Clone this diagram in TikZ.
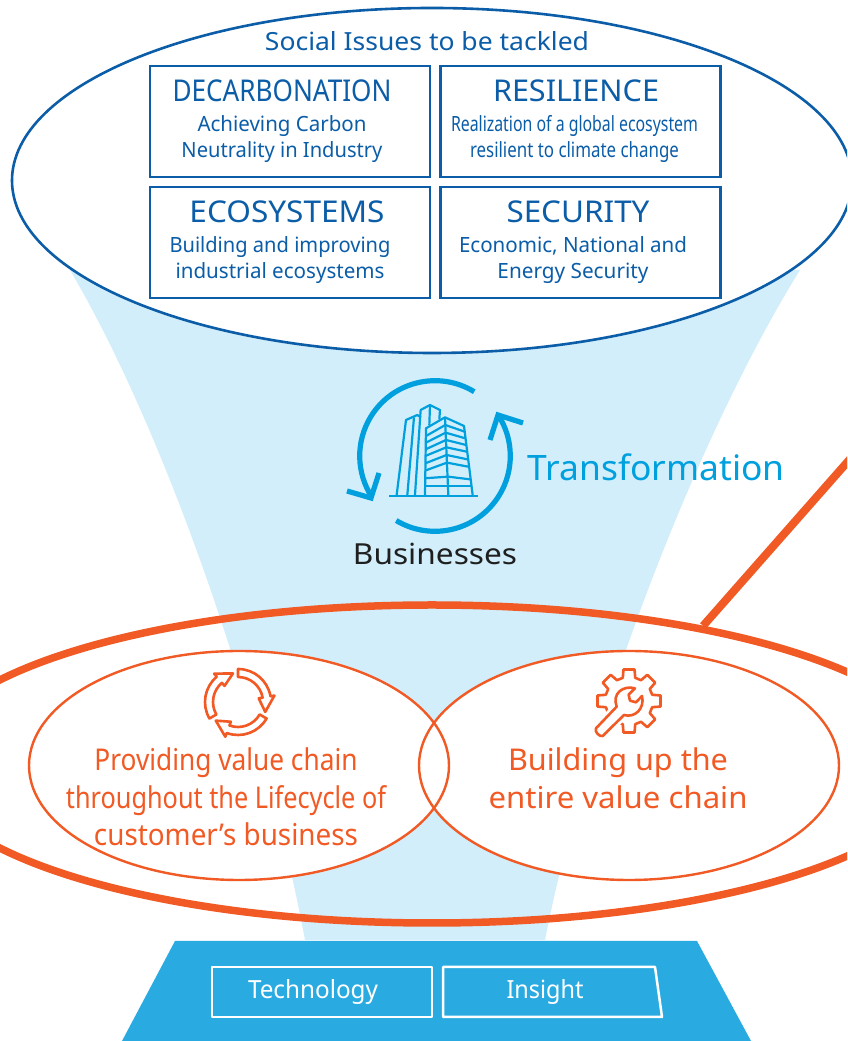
\documentclass[tikz,border=0pt]{standalone}
\usepackage{fontspec,graphicx}
\usetikzlibrary{shapes.geometric}
\setmainfont{Noto Sans}
\definecolor{issueblue}{HTML}{0B5DA8}
\definecolor{skyblue}{HTML}{00A0DE}
\definecolor{funnelblue}{HTML}{D2EEFB}
\definecolor{baseblue}{HTML}{29ABE2}
\definecolor{vcorange}{HTML}{F15A24}
\newcommand{\linew}[2]{\resizebox{#1pt}{\height}{#2}}
\newcommand{\fsize}[1]{\fontsize{#1}{#1}\selectfont}
\tikzset{
  issuebox/.style={draw=issueblue,line width=2.3pt,minimum width=280pt,minimum height=111pt,inner sep=0pt},
  issuehead/.style={text=issueblue,font=\fsize{30},inner sep=0pt},
  issuetext/.style={text=issueblue,align=center,inner sep=0pt,font=\fontsize{21}{26}\selectfont},
  vctext/.style={text=vcorange,align=center,inner sep=0pt,font=\fontsize{30}{37.5}\selectfont},
  vcell/.style={ellipse,draw=vcorange,line width=2.4pt,minimum width=420pt,minimum height=229pt,inner sep=0pt},
  basebox/.style={white,line width=2.5pt,line join=round},
  basetext/.style={text=white,inner sep=0pt,font=\fsize{25}},
  iconline/.style={skyblue,line width=2.2pt,line join=round},
  iconarc/.style={skyblue,line width=5.2pt},
  vcicon/.style={vcorange,line width=2.6pt,line join=round}
}
\begin{document}
\begin{tikzpicture}[x=1pt,y=1pt]
\useasboundingbox (0,0) rectangle (847,1041);
\clip (0,0) rectangle (847,1041);
\fill[white] (0,0) rectangle (847,1041);
% funnel
\fill[funnelblue] (70,771) .. controls (165,610) and (262,330) .. (305,101)
  -- (545,101) .. controls (590,330) and (700,610) .. (800,771) -- cycle;
% issues
\node[ellipse,draw=issueblue,fill=white,line width=2.6pt,minimum width=840pt,minimum height=345pt,inner sep=0pt] (issues) at (432,860.5) {};
\node[issuetext,font=\fsize{25}] (issuestitle) at (427,1000) {\linew{324}{Social Issues to be tackled}};
\node[issuebox] (decarb) at (290,919.5) {};
\node[issuebox] (resil) at (580.5,919.5) {};
\node[issuebox] (ecosys) at (290,798.5) {};
\node[issuebox] (secur) at (580.5,798.5) {};
\node[issuehead] (decarbhead) at (282,950.5) {\linew{219}{DECARBONATION}};
\node[issuetext] (decarbtext) at (282,902) {\linew{169}{Achieving Carbon}\\\linew{201}{Neutrality in Industry}};
\node[issuehead] (resilhead) at (576,950.5) {\linew{166}{RESILIENCE}};
\node[issuetext] (resiltext) at (574.5,902) {\linew{247}{Realization of a global ecosystem}\\\linew{209}{resilient to climate change}};
\node[issuehead] (ecosyshead) at (287,829.5) {\linew{195}{ECOSYSTEMS}};
\node[issuetext] (ecosystext) at (280,781) {\linew{221}{Building and improving}\\\linew{209}{industrial ecosystems}};
\node[issuehead] (securhead) at (578,829.5) {\linew{143}{SECURITY}};
\node[issuetext] (securtext) at (573,781) {\linew{228}{Economic, National and}\\\linew{151}{Energy Security}};
% transformation
\draw[iconarc] (435,585) ++(58.6:75.3) arc (58.6:213:75.3);
\draw[iconarc] (435,585) ++(239:75.3) arc (239:393:75.3);
\draw[iconarc,line join=miter] (347,550) -- (371,543) -- (379,568);
\draw[iconarc,line join=miter] (490,601) -- (498,626) -- (523,618);
\begin{scope}[shift={(330,681)},x=0.3333pt,y=-0.3333pt]
\draw[iconline] (178,408) -- (445,408);
\draw[iconline] (200,405) -- (228,180) -- (262,165) -- (272,172);
\draw[iconline] (232,405) -- (252,172);
\draw[iconline] (255,405) -- (272,150) -- (300,135) -- (330,150) -- (328,178);
\draw[iconline] (300,135) -- (298,195);
\draw[iconline] (285,405) -- (288,205) -- (345,172) -- (402,198) -- (428,405);
\draw[iconline] (345,172) -- (355,405);
\foreach \xl/\yl/\ym/\xm/\xr/\yr in {288/228/195/346/404/215,288/248/218/347/406/235,287/268/240/348/408/255,286/288/262/349/410/275,286/310/285/350/412/298,285/332/308/351/414/320,283/355/350/354/420/358,285/378/378/355/425/378}
  {\draw[iconline] (\xl,\yl) -- (\xm,\ym) -- (\xr,\yr);}
\end{scope}
\node[skyblue,inner sep=0pt,font=\fsize{35}] (transform) at (656,574) {\linew{257}{Transformation}};
\node[text=black!88,inner sep=0pt,font=\fsize{29}] (business) at (435,487) {\linew{164}{Businesses}};
% value chain
\fill[white] (239,275.5) ellipse (210 and 114.5);
\fill[white] (629,275.5) ellipse (210 and 114.5);
\node[ellipse,draw=vcorange,line width=7.5pt,minimum width=1018pt,minimum height=318pt,inner sep=0pt] (vchain) at (432,277) {};
\coordinate (linkend) at (880,616);
\draw[vcorange,line width=8pt] (vchain.27.4) -- (linkend);
\node[vcell] (lifecycle) at (239,275.5) {};
\node[vcell] (buildup) at (629,275.5) {};
\foreach \r in {0,-120,-240}
  {\draw[vcicon,shift={(238,339)},rotate=\r] (90:33) arc (90:10:33) -- (10:37) -- (-20:29) -- (10:21) -- (10:25) arc (10:90:25) -- cycle;}
\begin{scope}[shift={(629,340)}]
\draw[vcicon] (-15:24) \foreach \a in {0,45,...,315}
  {-- (\a-15:24) -- (\a-10:32) -- (\a+10:32) -- (\a+15:24)} -- cycle;
\end{scope}
\begin{scope}[shift={(580,381)},x=0.3333pt,y=-0.3333pt]
\path[draw=white,fill=white,line width=8pt,line join=round] (48,205) -- (110,140) .. controls (95,100) and (130,75) .. (165,85) -- (146,104) -- (150,122) -- (168,127) -- (186,108) .. controls (195,145) and (165,175) .. (132,165) -- (68,228) .. controls (60,232) and (42,215) .. (48,205) -- cycle;
\draw[vcicon] (48,205) -- (110,140) .. controls (95,100) and (130,75) .. (165,85) -- (146,104) -- (150,122) -- (168,127) -- (186,108) .. controls (195,145) and (165,175) .. (132,165) -- (68,228) .. controls (60,232) and (42,215) .. (48,205) -- cycle;
\end{scope}
\node[vctext] (lifetext) at (226,244) {\linew{263}{Providing value chain}\\\linew{320}{throughout the Lifecycle of}\\\linew{264}{customer\symbol{39}s business}};
\node[vctext] (buildtext) at (618,262.5) {\linew{220}{Building up the}\\\linew{259}{entire value chain}};
% base
\fill[baseblue] (175,100) -- (697,100) -- (751,0) -- (122,0) -- cycle;
\draw[basebox] (212,74) rectangle (432,24);
\draw[basebox] (443,74) -- (655,74) -- (662,24) -- (443,24) -- cycle;
\node[basetext] (techtext) at (313,49) {\linew{130}{Technology}};
\node[basetext] (insighttext) at (545,49) {\linew{77}{Insight}};
\end{tikzpicture}
\end{document}
